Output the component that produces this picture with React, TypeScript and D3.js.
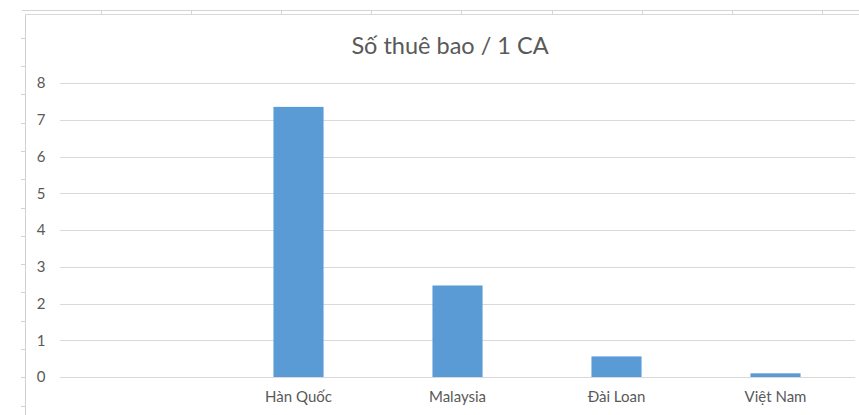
import React, { useEffect, useRef } from "react";
import * as d3 from "d3";

const title = "Số thuê bao / 1 CA";
const categories = ["", "Hàn Quốc", "Malaysia", "Đài Loan", "Việt Nam"];
const values: (number | null)[] = [null, 7.35, 2.49, 0.56, 0.1];
const yTicks = [0, 1, 2, 3, 4, 5, 6, 7, 8];

const W = 859;
const H = 415;

export default function App() {
  const ref = useRef<SVGSVGElement>(null);

  useEffect(() => {
    document.body.style.margin = "0";
    const svg = d3.select(ref.current);
    svg.selectAll("*").remove();

    const font = "Lato, 'Open Sans', sans-serif";
    const textColor = "#595959";

    // spreadsheet background decoration
    const bg = svg.append("g");
    bg.append("line").attr("x1", 22).attr("x2", W).attr("y1", 10.5).attr("y2", 10.5)
      .attr("stroke", "#d4d4d4");
    d3.range(0, 9).forEach((i) => {
      const x = Math.round(100.5 + i * 90.2) + 0.5;
      bg.append("line").attr("x1", x).attr("x2", x).attr("y1", 10).attr("y2", 14)
        .attr("stroke", "#d4d4d4");
    });
    d3.range(0, 14).forEach((i) => {
      const y = Math.round(37.7 + i * 28.3) + 0.5;
      bg.append("line").attr("x1", 21).attr("x2", 25).attr("y1", y).attr("y2", y)
        .attr("stroke", "#d4d4d4");
    });
    // chart border
    bg.append("line").attr("x1", 25.5).attr("x2", 25.5).attr("y1", 14).attr("y2", H)
      .attr("stroke", "#d0d0d0");
    bg.append("line").attr("x1", 25).attr("x2", W).attr("y1", 14.5).attr("y2", 14.5)
      .attr("stroke", "#d9d9d9");

    const left = 60, right = 855, top = 83, bottom = 377;
    const keys = categories.map((c, i) => i + "|" + c);
    const x = d3.scaleBand<string>().domain(keys).range([left, right]).padding(0);
    const y = d3.scaleLinear().domain([0, 8]).range([bottom, top]);

    // gridlines
    svg.append("g").selectAll("line").data(yTicks).join("line")
      .attr("x1", left).attr("x2", right)
      .attr("y1", (d) => Math.round(y(d)) + 0.5).attr("y2", (d) => Math.round(y(d)) + 0.5)
      .attr("stroke", "#d9d9d9").attr("stroke-width", 1);

    // y labels
    svg.append("g").selectAll("text").data(yTicks).join("text")
      .attr("x", 41).attr("y", (d) => y(d)).attr("dy", "0.35em")
      .attr("text-anchor", "middle").attr("font-family", font).attr("font-size", 15)
      .attr("fill", textColor).text((d) => String(d));

    // bars
    const barW = x.bandwidth() * 0.315;
    svg.append("g").selectAll("rect")
      .data(values.map((v, i) => ({ k: keys[i], v })).filter((d) => d.v != null))
      .join("rect")
      .attr("x", (d) => (x(d.k) as number) + x.bandwidth() / 2 - barW / 2)
      .attr("width", barW)
      .attr("y", (d) => y(d.v as number))
      .attr("height", (d) => bottom - y(d.v as number))
      .attr("fill", "#5b9bd5");

    // x labels
    svg.append("g").selectAll("text").data(keys).join("text")
      .attr("x", (d) => (x(d) as number) + x.bandwidth() / 2)
      .attr("y", 402)
      .attr("text-anchor", "middle").attr("font-family", font).attr("font-size", 15)
      .attr("fill", textColor).text((d) => d.split("|")[1]);

    // title
    svg.append("text").attr("x", 450).attr("y", 54).attr("text-anchor", "middle")
      .attr("font-family", font).attr("font-size", 23.5).attr("fill", textColor)
      .text(title);
  }, []);

  return (
    <svg ref={ref} width={W} height={H} style={{ display: "block", background: "#fff" }} />
  );
}
